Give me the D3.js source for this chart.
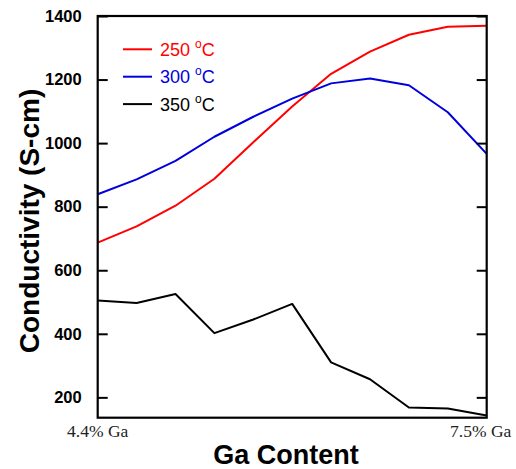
<!DOCTYPE html>
<html><head><meta charset="utf-8">
<script src="https://cdn.jsdelivr.net/npm/d3@7"></script>
<style>body{margin:0;background:#fff}svg{display:block}</style>
</head><body><svg id="c" width="516" height="469"></svg>
<script>
const xIndex = [0,1,2,3,4,5,6,7,8,9,10];
const xEndLabels = ["4.4% Ga","7.5% Ga"];
const yTicks = [200,400,600,800,1000,1200,1400];
const seriesNames = ["250","300","350"];
const seriesColors = ["#ff0000","#0000dd","#000000"];
const s250 = [687,738,803,888,1003,1115,1218,1288,1341,1366,1369];
const s300 = [839,886,944,1020,1083,1140,1188,1203,1182,1097,966];
const s350 = [505,497,525,402,445,494,310,257,168,165,143];
const seriesData = [s250,s300,s350];

const svg = d3.select("#c");
const L=97.7,R=486.7,T=16,B=417.7;
const x = d3.scaleLinear().domain([0,10]).range([L,R]);
const y = d3.scaleLinear().domain([136,1400]).range([B,T]);

// lines
const line = d3.line().x((d,i)=>x(xIndex[i])).y(d=>y(d));
seriesData.forEach((s,k)=>{
  svg.append("path").attr("d",line(s)).attr("fill","none")
    .attr("stroke",seriesColors[k]).attr("stroke-width",2).attr("stroke-linejoin","round");
});

// left axis with inward ticks
const gl = svg.append("g").attr("transform",`translate(${L},0)`)
  .call(d3.axisLeft(y).tickValues(yTicks).tickSize(-10).tickPadding(16).tickFormat(d3.format("d")));
gl.select(".domain").remove();
gl.selectAll("line").attr("stroke","#000").attr("stroke-width",2);
gl.selectAll("text").attr("font-family","Liberation Sans, Arial, sans-serif").attr("font-weight","bold").attr("font-size",16.5).attr("fill","#000");

const gr = svg.append("g").attr("transform",`translate(${R},0)`)
  .call(d3.axisRight(y).tickValues(yTicks).tickSize(-10).tickFormat(""));
gr.select(".domain").remove();
gr.selectAll("line").attr("stroke","#000").attr("stroke-width",2);

// frame
svg.append("rect").attr("x",L).attr("y",T).attr("width",R-L).attr("height",B-T)
  .attr("fill","none").attr("stroke","#000").attr("stroke-width",2.2);

// x end labels
svg.append("text").attr("x",x(0)).attr("y",437).attr("text-anchor","middle")
  .attr("font-family","Liberation Serif, Times New Roman, serif").attr("font-size",17.5).attr("fill","#222").text(xEndLabels[0]);
svg.append("text").attr("x",x(10)-6).attr("y",437).attr("text-anchor","middle")
  .attr("font-family","Liberation Serif, Times New Roman, serif").attr("font-size",17.5).attr("fill","#222").text(xEndLabels[1]);

// titles
svg.append("text").attr("x",286).attr("y",464).attr("text-anchor","middle")
  .attr("font-family","Liberation Sans, Arial, sans-serif").attr("font-weight","bold").attr("font-size",27).text("Ga Content");
svg.append("text").attr("transform","translate(39,221) rotate(-90)").attr("text-anchor","middle")
  .attr("font-family","Liberation Sans, Arial, sans-serif").attr("font-weight","bold").attr("font-size",28).text("Conductivity (S-cm)");

// legend
const lg = svg.append("g");
seriesNames.forEach((n,k)=>{
  const yy = 49.3 + k*27.4;
  lg.append("line").attr("x1",123).attr("x2",152).attr("y1",yy).attr("y2",yy)
    .attr("stroke",seriesColors[k]).attr("stroke-width",2);
  const t = lg.append("text").attr("x",160).attr("y",yy+6.5)
    .attr("font-family","Liberation Sans, Arial, sans-serif").attr("font-size",18).attr("fill",seriesColors[k]);
  t.append("tspan").text(n+" ");
  t.append("tspan").attr("font-size",12).attr("dy",-8).text("o");
  t.append("tspan").attr("dy",8).text("C");
});
</script></body></html>
